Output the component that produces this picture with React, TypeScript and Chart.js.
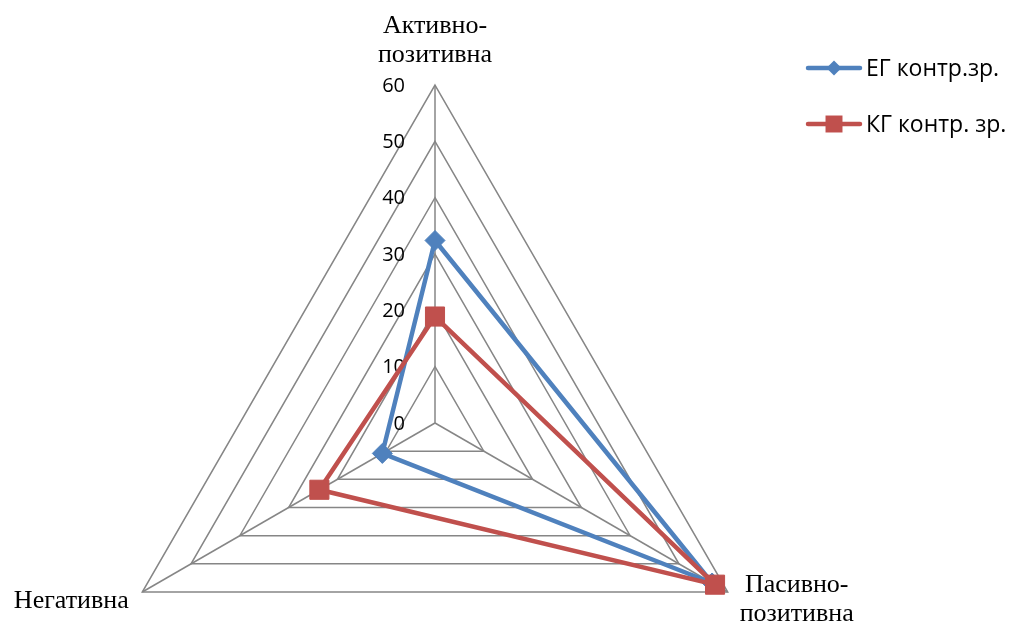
import React, { useEffect, useRef } from "react";
import { Chart, registerables } from "chart.js";

Chart.register(...registerables);

// Axis names (one entry per radar spoke, split into lines)
const axisLabels: string[][] = [["Активно-", "позитивна"], ["Пасивно-", "позитивна"], ["Негативна"]];
// Series values, in % of pupils per category
const egValues = [32.4, 56.8, 10.8];
const kgValues = [18.9, 57.4, 23.7];
const seriesNames = ["ЕГ контр.зр.", "КГ контр. зр."];
// Radial scale
const scaleMin = 0;
const scaleMax = 60;
const scaleStep = 10;

// Layout of the radar
const CENTER_X = 435;
const CENTER_Y = 423;
const RADIUS = 338;

const BLUE = "#4F81BD";
const RED = "#C0504D";
const GRID = "#868686";
const SANS = '"Open Sans", "DejaVu Sans", sans-serif';
const SERIF = '"Liberation Serif", "DejaVu Serif", serif';

function drawMarker(ctx: CanvasRenderingContext2D, style: string, x: number, y: number, r: number, color: string) {
  ctx.save();
  ctx.fillStyle = color;
  ctx.beginPath();
  if (style === "rectRot") {
    ctx.moveTo(x, y - r);
    ctx.lineTo(x + r, y);
    ctx.lineTo(x, y + r);
    ctx.lineTo(x - r, y);
    ctx.closePath();
  } else {
    const h = r * Math.SQRT1_2;
    ctx.rect(x - h, y - h, 2 * h, 2 * h);
  }
  ctx.fill();
  ctx.restore();
}

const overlay = {
  id: "radarOverlay",
  beforeDatasetsDraw(chart: any) {
    const scale = chart.scales.r;
    const ctx: CanvasRenderingContext2D = chart.ctx;
    ctx.save();
    ctx.font = `20px ${SANS}`;
    ctx.fillStyle = "#000";
    ctx.textAlign = "right";
    ctx.textBaseline = "middle";
    scale.ticks.forEach((t: any) => {
      const d = scale.getDistanceFromCenterForValue(t.value);
      ctx.fillText(String(t.value), scale.xCenter - 30, scale.yCenter - d + 1);
    });
    ctx.restore();
  },
  afterDraw(chart: any) {
    const scale = chart.scales.r;
    const ctx: CanvasRenderingContext2D = chart.ctx;
    ctx.save();
    // spoke names
    ctx.font = `26px ${SERIF}`;
    ctx.fillStyle = "#000";
    ctx.textAlign = "center";
    ctx.textBaseline = "middle";
    const lineH = 29;
    axisLabels.forEach((lines, i) => {
      const p = scale.getPointPosition(i, scale.drawingArea);
      let cx = p.x;
      let cy = p.y;
      if (i === 0) {
        cy = p.y - 59;
      } else if (i === 1) {
        cx = p.x + 69;
        cy = p.y - 7;
      } else {
        cx = p.x - 71;
        cy = p.y + 9;
      }
      lines.forEach((ln, k) => ctx.fillText(ln, cx, cy + k * lineH));
    });

    // legend
    ctx.font = `23px ${SANS}`;
    ctx.textAlign = "left";
    chart.data.datasets.forEach((ds: any, i: number) => {
      const y = 68 + i * 56;
      ctx.strokeStyle = ds.borderColor;
      ctx.lineWidth = 4.5;
      ctx.lineCap = "round";
      ctx.beginPath();
      ctx.moveTo(808, y);
      ctx.lineTo(860, y);
      ctx.stroke();
      drawMarker(ctx, ds.pointStyle, 834, y, ds.pointStyle === "rectRot" ? 7.5 : 12, ds.borderColor);
      ctx.fillStyle = "#000";
      ctx.fillText(ds.label, 866, y + 1);
    });
    ctx.restore();
  },
};

export default function App() {
  const ref = useRef<HTMLCanvasElement | null>(null);

  useEffect(() => {
    if (!ref.current) return;
    const chart = new Chart(ref.current, {
      type: "radar",
      data: {
        labels: axisLabels.map((l) => l.join("")),
        datasets: [
          {
            label: seriesNames[0],
            data: egValues,
            borderColor: BLUE,
            backgroundColor: BLUE,
            fill: false,
            borderWidth: 4.5,
            borderJoinStyle: "round",
            pointStyle: "rectRot",
            pointRadius: 10,
            pointBackgroundColor: BLUE,
            pointBorderColor: BLUE,
            pointBorderWidth: 1,
            order: 1,
          },
          {
            label: seriesNames[1],
            data: kgValues,
            borderColor: RED,
            backgroundColor: RED,
            fill: false,
            borderWidth: 4.5,
            borderJoinStyle: "round",
            pointStyle: "rect",
            pointRadius: 13.5,
            pointBackgroundColor: RED,
            pointBorderColor: RED,
            pointBorderWidth: 1,
            order: 0,
          },
        ],
      },
      options: {
        responsive: false,
        animation: false,
        layout: { padding: 0 },
        elements: { line: { tension: 0 } },
        plugins: { legend: { display: false }, tooltip: { enabled: false } },
        scales: {
          r: {
            min: scaleMin,
            max: scaleMax,
            ticks: { stepSize: scaleStep, display: false },
            pointLabels: { display: false },
            grid: { color: GRID, lineWidth: 1.5 },
            angleLines: { color: GRID, lineWidth: 1.5 },
            afterFit: (scale: any) => {
              scale.xCenter = CENTER_X;
              scale.yCenter = CENTER_Y;
              scale.drawingArea = RADIUS;
            },
          },
        },
      } as any,
      plugins: [overlay],
    });
    return () => chart.destroy();
  }, []);

  return (
    <div style={{ position: "absolute", left: 0, top: 0, width: 1010, height: 625, background: "#fff" }}>
      <canvas ref={ref} width={1010} height={625} />
    </div>
  );
}
